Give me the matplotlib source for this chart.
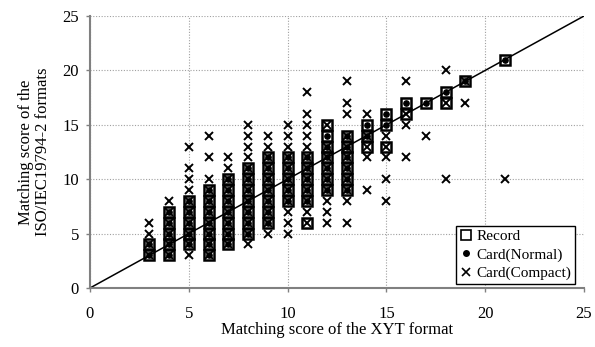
import matplotlib
matplotlib.use("Agg")
import matplotlib.pyplot as plt

plt.rcParams['font.family'] = ['Liberation Serif', 'DejaVu Serif']

# Matching scores: XYT score (x) -> list of ISO/IEC 19794-2 scores (y)
record = {
    3: [3, 4],
    4: [3, 4, 5, 6, 7],
    5: [4, 5, 6, 7, 8],
    6: [3, 4, 5, 6, 7, 8, 9],
    7: [4, 5, 6, 7, 8, 9, 10],
    8: [5, 6, 7, 8, 9, 10, 11],
    9: [6, 7, 8, 9, 10, 11, 12],
    10: [8, 9, 10, 11, 12],
    11: [6, 8, 9, 10, 11, 12],
    12: [9, 10, 11, 12, 13, 14, 15],
    13: [9, 10, 11, 12, 13, 14],
    14: [13, 14, 15],
    15: [13, 15, 16],
    16: [16, 17],
    17: [17],
    18: [17, 18],
    19: [19],
    21: [21],
}
card_normal = {
    3: [3, 4],
    4: [3, 4, 5, 6, 7],
    5: [4, 5, 6, 7, 8],
    6: [3, 4, 5, 6, 7, 8, 9],
    7: [4, 5, 6, 7, 8, 9, 10],
    8: [5, 6, 7, 8, 9, 10, 11],
    9: [6, 7, 8, 9, 10, 11, 12],
    10: [8, 9, 10, 11, 12],
    11: [8, 9, 10, 11, 12],
    12: [9, 10, 11, 12, 13, 14],
    13: [9, 10, 11, 12, 13, 14],
    14: [14, 15],
    15: [15, 16],
    16: [17],
    17: [17],
    18: [18],
    19: [19],
    21: [21],
}
card_compact = {
    3: [3, 4, 5, 6],
    4: [3, 4, 5, 6, 7, 8],
    5: [3, 4, 5, 6, 7, 8, 9, 10, 11, 13],
    6: [3, 4, 5, 6, 7, 8, 9, 10, 12, 14],
    7: [4, 5, 6, 7, 8, 9, 10, 11, 12],
    8: [4, 5, 6, 7, 8, 9, 10, 11, 12, 13, 14, 15],
    9: [5, 6, 7, 8, 9, 10, 11, 12, 13, 14],
    10: [5, 6, 7, 8, 9, 10, 11, 12, 13, 14, 15],
    11: [6, 7, 8, 9, 10, 11, 12, 13, 14, 15, 16, 18],
    12: [6, 7, 8, 9, 10, 11, 12, 13, 15],
    13: [6, 8, 9, 10, 11, 12, 13, 14, 16, 17, 19],
    14: [9, 12, 13, 14, 16],
    15: [8, 10, 12, 13, 14],
    16: [12, 15, 16, 19],
    17: [14],
    18: [10, 17, 20],
    19: [17, 19],
    21: [10],
}
ticks = [0, 5, 10, 15, 20, 25]
x_label = "Matching score of the XYT format"
y_label = "Matching score of the\nISO/IEC19794-2 formats"


def flatten(d):
    xs, ys = [], []
    for k, vals in d.items():
        for v in vals:
            xs.append(k)
            ys.append(v)
    return xs, ys


fig = plt.figure(figsize=(5.95, 3.47), dpi=100)
ax = fig.add_axes([90 / 595, 1 - 288 / 347, (584 - 90) / 595, (288 - 16) / 347])

ax.set_xlim(0, 25)
ax.set_ylim(0, 25)
ax.set_xticks(ticks)
ax.set_yticks(ticks)

ax.grid(True, color='#a0a0a0', linestyle=(0, (1, 1.5)), linewidth=0.8)
ax.set_axisbelow(True)

for s in ['top', 'right']:
    ax.spines[s].set_visible(False)
for s in ['left', 'bottom']:
    ax.spines[s].set_color('#808080')
    ax.spines[s].set_linewidth(1.5)
ax.tick_params(axis='both', colors='#808080', length=3, width=1, labelcolor='black', labelsize=12)
ax.tick_params(axis='x', pad=10)
ax.tick_params(axis='y', pad=5)

ax.plot([0, 25], [0, 25], color='black', linewidth=1.1, zorder=2)

rx, ry = flatten(record)
nx, ny = flatten(card_normal)
cx, cy = flatten(card_compact)

ax.plot(rx, ry, linestyle='none', marker='s', markersize=7.5, markerfacecolor='none',
        markeredgecolor='black', markeredgewidth=1.8, label='Record', zorder=3, clip_on=False)
ax.plot(nx, ny, linestyle='none', marker='o', markersize=3.8, color='black',
        label='Card(Normal)', zorder=4, clip_on=False)
ax.plot(cx, cy, linestyle='none', marker='x', markersize=6, color='black',
        markeredgewidth=1.4, label='Card(Compact)', zorder=5, clip_on=False)

ax.set_xlabel(x_label, fontsize=12, labelpad=0)
ax.set_ylabel(y_label, fontsize=12, labelpad=8, linespacing=1.05)

leg = ax.legend(loc='lower right', bbox_to_anchor=(1 - 9 / 494, 4 / 272), fontsize=11,
                frameon=True, fancybox=False, edgecolor='black', framealpha=1,
                handlelength=0.8, handletextpad=0.3, borderpad=0.25, labelspacing=0.3,
                borderaxespad=0)
leg.get_frame().set_linewidth(1.0)
for h in leg.legend_handles:
    h.set_markeredgewidth(1.2)

fig.savefig('out.png', dpi=100)
